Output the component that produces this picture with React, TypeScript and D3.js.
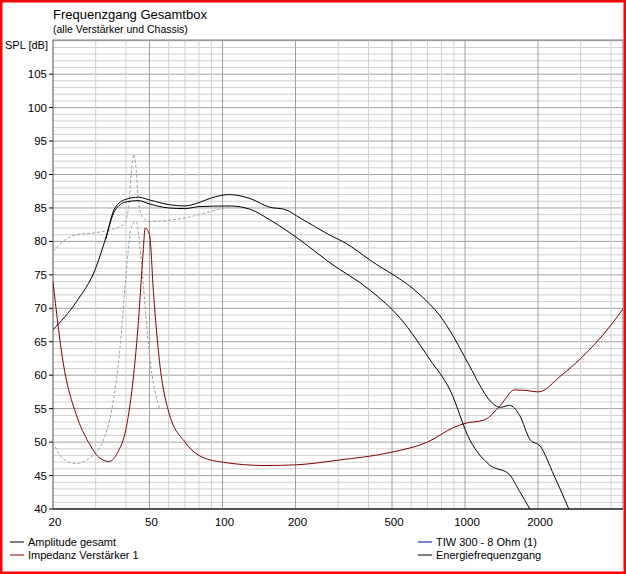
import React from "react";
import * as d3 from "d3";

const W = 626;
const H = 574;
const M = { left: 53, right: 623, top: 40, bottom: 509 };

type Pt = [number, number];

const amplitude: Pt[] = [
  [20, 66.8], [25, 71], [30, 76], [33, 80.5], [36, 85], [40, 86.3], [45, 86.6], [50, 86.2],
  [60, 85.5], [70, 85.3], [80, 85.8], [90, 86.5], [107, 87], [130, 86.4], [157, 85.1],
  [180, 84.8], [209, 83.5], [275, 81], [320, 79.8], [406, 77.2], [653, 72], [784, 69],
  [1040, 61.5], [1151, 58.5], [1260, 56.3], [1400, 55.2], [1525, 55.5], [1680, 54],
  [1860, 50.3], [2040, 49.4], [2330, 45], [2680, 40],
];
const energy: Pt[] = [
  [33, 80.3], [36, 84.6], [40, 85.9], [45, 86.1], [50, 85.6], [60, 85], [70, 84.9], [80, 85.2],
  [107, 85.3], [130, 84.8], [157, 83.2], [209, 80.2], [275, 76.9], [406, 72.7],
  [541, 68.5], [718, 62.3], [867, 57.8], [1048, 50.3], [1261, 46.6], [1520, 45.2],
  [1670, 42.8], [1850, 40],
];
const impedance: Pt[] = [
  [20, 74], [22, 62], [25, 54], [28, 50], [31, 47.7], [34, 47.1], [37, 48.5], [40, 52],
  [43, 60], [45, 68], [47, 78], [48, 82], [50, 81], [52, 72], [55, 62], [60, 54.5],
  [70, 50], [80, 48], [100, 47], [150, 46.5], [200, 46.6], [300, 47.3], [500, 48.5],
  [700, 50], [900, 52.2], [1000, 52.8], [1200, 53.3], [1400, 55.5], [1600, 57.8],
  [1800, 57.7], [2000, 57.5], [2500, 60], [3000, 62.5], [3500, 65], [4000, 67.5], [4500, 70],
];
const dashedSpl: Pt[] = [
  [20, 78.5], [22, 80], [25, 81], [30, 81.3], [35, 81.8], [39, 82.5], [41, 85], [42, 90],
  [43, 93], [44, 91], [45, 86], [47, 83.5], [50, 83], [70, 83.5], [90, 84.5], [107, 85.2],
];
const dashedImp: Pt[] = [
  [20, 50], [22, 47.5], [25, 46.8], [28, 47.5], [32, 50], [35, 55], [38, 65], [40, 75],
  [42, 82], [44, 83], [46, 78], [48, 70], [50, 63], [55, 55],
];
const xTicks = [20, 50, 100, 200, 500, 1000, 2000];
const yTicks = [40, 45, 50, 55, 60, 65, 70, 75, 80, 85, 90, 95, 100, 105];
const legendLeft = [
  { label: "Amplitude gesamt", color: "#000000" },
  { label: "Impedanz Verstärker 1", color: "#800000" },
];
const legendRight = [
  { label: "TIW 300 - 8 Ohm (1)", color: "#0000a0" },
  { label: "Energiefrequenzgang", color: "#000000" },
];

const x = d3.scaleLog().domain([20, 20 * Math.pow(10, (M.right - M.left) / 242.5)]).range([M.left, M.right]);
const y = d3.scaleLinear().domain([40, 40 + (M.bottom - M.top) / 6.69]).range([M.bottom, M.top]);

const minorX: number[] = [];
for (const dec of [10, 100, 1000]) for (let k = 1; k <= 9; k++) {
  const v = dec * k;
  if (v >= 20 && v <= x.domain()[1]) minorX.push(v);
}
const minorY = d3.range(40, Math.floor(y.domain()[1]) + 1);

const line = d3.line<Pt>().x((d) => x(d[0])).y((d) => y(d[1])).curve(d3.curveMonotoneX);

export default function App() {
  const font = "'Liberation Sans', Arial, sans-serif";
  return (
    <svg width={W} height={H} style={{ position: "absolute", left: 0, top: 0, background: "#fff" }} fontFamily={font}>
      <defs>
        <clipPath id="plot">
          <rect x={M.left} y={M.top} width={M.right - M.left} height={M.bottom - M.top} />
        </clipPath>
      </defs>
      <rect x={1} y={1} width={W - 2} height={H - 2} fill="none" stroke="#ff0000" strokeWidth={3} />
      <text x={53} y={19} fontSize={13}>Frequenzgang Gesamtbox</text>
      <text x={53} y={33} fontSize={10.5}>(alle Verstärker und Chassis)</text>
      <text x={48} y={49} fontSize={11} textAnchor="end">SPL [dB]</text>
      {minorY.map((v) => (
        <line key={"hy" + v} x1={M.left} x2={M.right} y1={y(v)} y2={y(v)} stroke={v % 5 === 0 ? "#a0a0a0" : "#d0d0d0"} />
      ))}
      {minorX.map((v) => {
        const major = [20, 50, 100, 200, 500, 1000, 2000].includes(v);
        return <line key={"vx" + v} x1={x(v)} x2={x(v)} y1={M.top} y2={M.bottom} stroke={major ? "#a0a0a0" : "#d0d0d0"} />;
      })}
      <rect x={M.left} y={M.top} width={M.right - M.left} height={M.bottom - M.top} fill="none" stroke="#808080" />
      <line x1={M.left} x2={M.right} y1={M.bottom} y2={M.bottom} stroke="#000" />
      {yTicks.map((v) => (
        <g key={"yt" + v}>
          <line x1={M.left - 4} x2={M.left} y1={y(v)} y2={y(v)} stroke="#000" />
          <text x={M.left - 6} y={y(v) + 4} fontSize={11.5} textAnchor="end">{v}</text>
        </g>
      ))}
      {xTicks.map((v) => (
        <text key={"xt" + v} x={x(v) + 2} y={526} fontSize={11.5} textAnchor="middle">{v}</text>
      ))}
      <g clipPath="url(#plot)" fill="none">
        <path d={line(dashedImp)!} stroke="#a0a0a0" strokeDasharray="3,2" />
        <path d={line(dashedSpl)!} stroke="#a0a0a0" strokeDasharray="3,2" />
        <path d={line(impedance)!} stroke="#800000" />
        <path d={line(energy)!} stroke="#000" />
        <path d={line(amplitude)!} stroke="#000" />
      </g>
      {legendLeft.map((l, i) => (
        <g key={l.label} transform={`translate(10, ${542 + i * 13})`}>
          <line x1={0} x2={14} y1={0} y2={0} stroke={l.color} />
          <text x={18} y={4} fontSize={11}>{l.label}</text>
        </g>
      ))}
      {legendRight.map((l, i) => (
        <g key={l.label} transform={`translate(418, ${542 + i * 13})`}>
          <line x1={0} x2={14} y1={0} y2={0} stroke={l.color} />
          <text x={18} y={4} fontSize={11}>{l.label}</text>
        </g>
      ))}
    </svg>
  );
}
